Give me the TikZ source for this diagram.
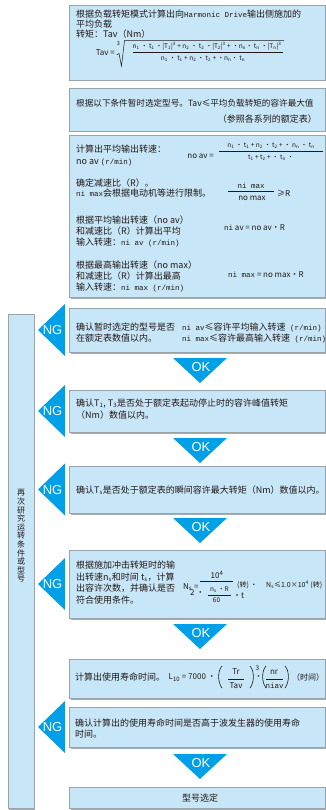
\documentclass[tikz,border=0pt]{standalone}
\usepackage{fontspec}
\setmainfont{Noto Sans CJK SC}
\newfontfamily\lsans{Liberation Sans}
\newfontfamily\lmono{Liberation Mono}
\definecolor{boxblue}{HTML}{C7E6F8}
\definecolor{boxline}{HTML}{9AA3A8}
\definecolor{shade}{HTML}{A4ADB3}
\definecolor{cyanfill}{HTML}{00A0E9}
\definecolor{txtc}{HTML}{231815}
\newcommand\mysub[1]{\textsubscript{#1}}
\newcommand\mysup[1]{\textsuperscript{#1}}
\newcommand\mono[1]{{\lmono\fontsize{7.5}{10}\selectfont #1}}
\tikzset{
  flowbox/.style={fill=boxblue, draw=boxline, line width=0.6pt},
  boxshadow/.style={fill=shade, draw=none},
  txt/.style={anchor=west, inner sep=0pt, text=txtc, font=\fontsize{9}{10}\selectfont, text height=7.5pt, text depth=1.5pt},
  fml/.style={inner sep=0pt, text=txtc, font=\fontsize{6.5}{7}\selectfont},
  fmm/.style={inner sep=0pt, text=txtc, font=\fontsize{8}{9}\selectfont},
  fbar/.style={draw=txtc, line width=0.5pt},
  ngtri/.style={fill=cyanfill, draw=none},
  marktext/.style={text=white, inner sep=0pt, font=\lsans\fontsize{13}{13}\selectfont},
}
\begin{document}
\begin{tikzpicture}[x=1pt,y=-1pt]
\useasboundingbox (0,0) rectangle (326,810);
% boxes with shadows
\foreach \t/\b/\n in {5/80/b1, 88/131/b2, 135/297/b3, 308/352/b4, 390/432/b5, 466/513/b6, 550/618/b7, 659/698/b8, 707/747/b9, 787/808/b10}{
  \fill[boxshadow] (70.5,\t+1.2) rectangle (326,\b+1.5);
  \path[flowbox] (69.5,\t) rectangle (325,\b);
  \coordinate (\n) at (197,{(\t+\b)/2});
}
% left tall box
\fill[boxshadow] (9.3,315.2) rectangle (35.3,809.5);
\path[flowbox] (8,314) rectangle (34,808);
\node[inner sep=0pt, text=txtc, align=center, font=\fontsize{8}{8.6}\selectfont] (vt) at (21,536) {再\\次\\研\\究\\运\\转\\条\\件\\或\\型\\号};

% NG triangles
\foreach \c/\n in {330/ng1, 411/ng2, 489.5/ng3, 584/ng4, 727/ng5}{
  \fill[ngtri] (65,\c-26) -- (65,\c+26) -- (38,\c) -- cycle;
  \node[marktext] (\n) at (52.5,\c+0.5) {NG};
}
% OK triangles
\foreach \t/\n in {358/ok1, 438/ok2, 518/ok3, 624/ok4, 754/ok5}{
  \fill[ngtri] (173,\t) -- (227,\t) -- (200,\t+25) -- cycle;
  \node[marktext] (\n) at (201,\t+9) {OK};
}

% ---------- box 1
\node[txt] (t11) at (76,15) {根据负载转矩模式计算出向\mono{Harmonic Drive}输出侧施加的};
\node[txt] (t12) at (76,25) {平均负载};
\node[txt] (t13) at (76,35) {转矩：Tav（Nm）};
\node[fmm, anchor=east] (f1a) at (115,53) {Tav =};
\node[fml, font=\fontsize{5.5}{6}\selectfont] (f1i) at (118.5,44) {3};
\draw[txtc, line width=0.5pt] (116.5,55) -- (119,53.5) -- (121.5,66) -- (124.5,40.5) -- (284,40.5);
\node[fml] (f1n) at (207,46.5) {n\mysub{1} • t\mysub{1} •|T\mysub{1}|\mysup{3} + n\mysub{2} • t\mysub{2} •|T\mysub{2}|\mysup{3} + ·n\mysub{n}• t\mysub{n} •|T\mysub{n}|\mysup{3}};
\draw[fbar] (133,52.5) -- (283,52.5);
\node[fml] (f1d) at (203,59) {n\mysub{1} • t\mysub{1} + n\mysub{2} • t\mysub{2} + ·n\mysub{n}• t\mysub{n}};

% ---------- box 2
\node[txt, font=\fontsize{8.6}{10}\selectfont] (t21) at (76,104) {根据以下条件暂时选定型号。Tav≤平均负载转矩的容许最大值};
\node[txt, anchor=east] (t22) at (317,120) {（参照各系列的额定表）};

% ---------- box 3
\node[txt] (t31) at (76,150) {计算出平均输出转速：};
\node[txt] (t32) at (76,162) {no av \mono{(r/min)}};
\node[fmm, anchor=east] (f3a) at (214,156) {no av =};
\node[fml] (f3n) at (271,146) {n\mysub{1} • t\mysub{1} + n\mysub{2} • t\mysub{2} + · n\mysub{n} • t\mysub{n}};
\draw[fbar] (219,151.5) -- (323,151.5);
\node[fml] (f3d) at (271,157.5) {t\mysub{1} + t\mysub{2} + · t\mysub{n} ·};

\node[txt] (t33) at (76,184) {确定减速比（R）。};
\node[txt] (t34) at (76,194) {\mono{ni max}会根据电动机等进行限制。};
\node[fmm] (f4n) at (251,185.5) {\mono{ni max}};
\draw[fbar] (228,191) -- (274,191);
\node[fmm] (f4d) at (252,198) {no max};
\node[fmm, anchor=west] (f4r) at (277,193) {≥R};

\node[txt] (t35) at (76,220) {根据平均输出转速（no av）};
\node[txt] (t36) at (76,231) {和减速比（R）计算出平均};
\node[txt] (t37) at (76,242) {输入转速：\mono{ni av (r/min)}};
\node[fmm, anchor=west] (f5) at (224,228) {\mono{ni} av = no av•R};

\node[txt] (t38) at (76,265) {根据最高输出转速（no max）};
\node[txt] (t39) at (76,276) {和减速比（R）计算出最高};
\node[txt] (t3a) at (76,287) {输入转速：\mono{ni max (r/min)}};
\node[fmm, anchor=west] (f6) at (228,275) {\mono{ni max} = no max•R};

% ---------- box 4
\node[txt] (t41) at (76,327) {确认暂时选定的型号是否};
\node[txt] (t42) at (182,327) {\mono{ni av}≤容许平均输入转速\mono{ (r/min)}};
\node[txt] (t43) at (76,338) {在额定表数值以内。};
\node[txt] (t44) at (182,338) {\mono{ni max}≤容许最高输入转速\mono{ (r/min)}};

% ---------- box 5
\node[txt] (t51) at (76,403) {确认T\mysub{1}, T\mysub{3}是否处于额定表起动停止时的容许峰值转矩};
\node[txt] (t52) at (76,415) {（Nm）数值以内。};

% ---------- box 6
\node[txt] (t61) at (76,490) {确认T\mysub{s}是否处于额定表的瞬间容许最大转矩（Nm）数值以内。};

% ---------- box 7
\node[txt] (t71) at (76,565) {根据施加冲击转矩时的输};
\node[txt] (t72) at (76,577) {出转速n\mysub{s}和时间 t\mysub{s}，计算};
\node[txt] (t73) at (76,588.5) {出容许次数，并确认是否};
\node[txt] (t74) at (76,600) {符合使用条件。};
\node[fmm, anchor=west] (f7a) at (183,587) {N\mysub{s} =};
\node[fmm] (f7n) at (217,575) {10\mysup{4}};
\draw[fbar] (200,581) -- (233,581);
\node[fmm, anchor=west] (f7b) at (190,593) {2 •};
\node[fml] (f7c) at (219.5,590) {n\mysub{s} •R};
\draw[fbar] (208,595.5) -- (231,595.5);
\node[fml] (f7d) at (216.5,600.5) {60};
\node[fmm, anchor=west] (f7e) at (233,596) {•t};
\node[fmm, anchor=west, font=\fontsize{7}{8}\selectfont] (f7f) at (237,585) {(转) ·};
\node[fmm, anchor=west, font=\fontsize{7}{8}\selectfont] (f7g) at (266,585) {N\mysub{s}≤1.0×10\mysup{4} (转)};

% ---------- box 8
\node[txt] (t81) at (75,677) {计算出使用寿命时间。};
\node[fmm, anchor=west] (f8a) at (168.5,677.5) {L\mysub{10} = 7000 •};
\draw[txtc, line width=0.6pt] (222,666) .. controls (217.5,671) and (217.5,682) .. (222,688);
\node[fmm] (f8n) at (236,672) {Tr};
\draw[fbar] (228,679) -- (244,679);
\node[fmm] (f8d) at (236,686) {Tav};
\draw[txtc, line width=0.6pt] (250,666) .. controls (254.5,671) and (254.5,682) .. (250,688);
\node[fml] (f8s) at (257.5,668.5) {3};
\node[fmm] (f8b) at (258.5,677.5) {•};
\draw[txtc, line width=0.6pt] (266,666) .. controls (261.5,671) and (261.5,682) .. (266,688);
\node[fmm] (f8m) at (274,672) {nr};
\draw[fbar] (266,679) -- (283,679);
\node[fmm] (f8e) at (274.5,686) {\mono{niav}};
\draw[txtc, line width=0.6pt] (285,666) .. controls (289.5,671) and (289.5,682) .. (285,688);
\node[fmm, anchor=west] (f8t) at (292,677.5) {（时间）};

% ---------- box 9
\node[txt] (t91) at (75,723) {确认计算出的使用寿命时间是否高于波发生器的使用寿命};
\node[txt] (t92) at (75,734) {时间。};

% ---------- box 10
\node[txt, anchor=center] (t10) at (200,798) {型号选定};
\end{tikzpicture}
\end{document}
